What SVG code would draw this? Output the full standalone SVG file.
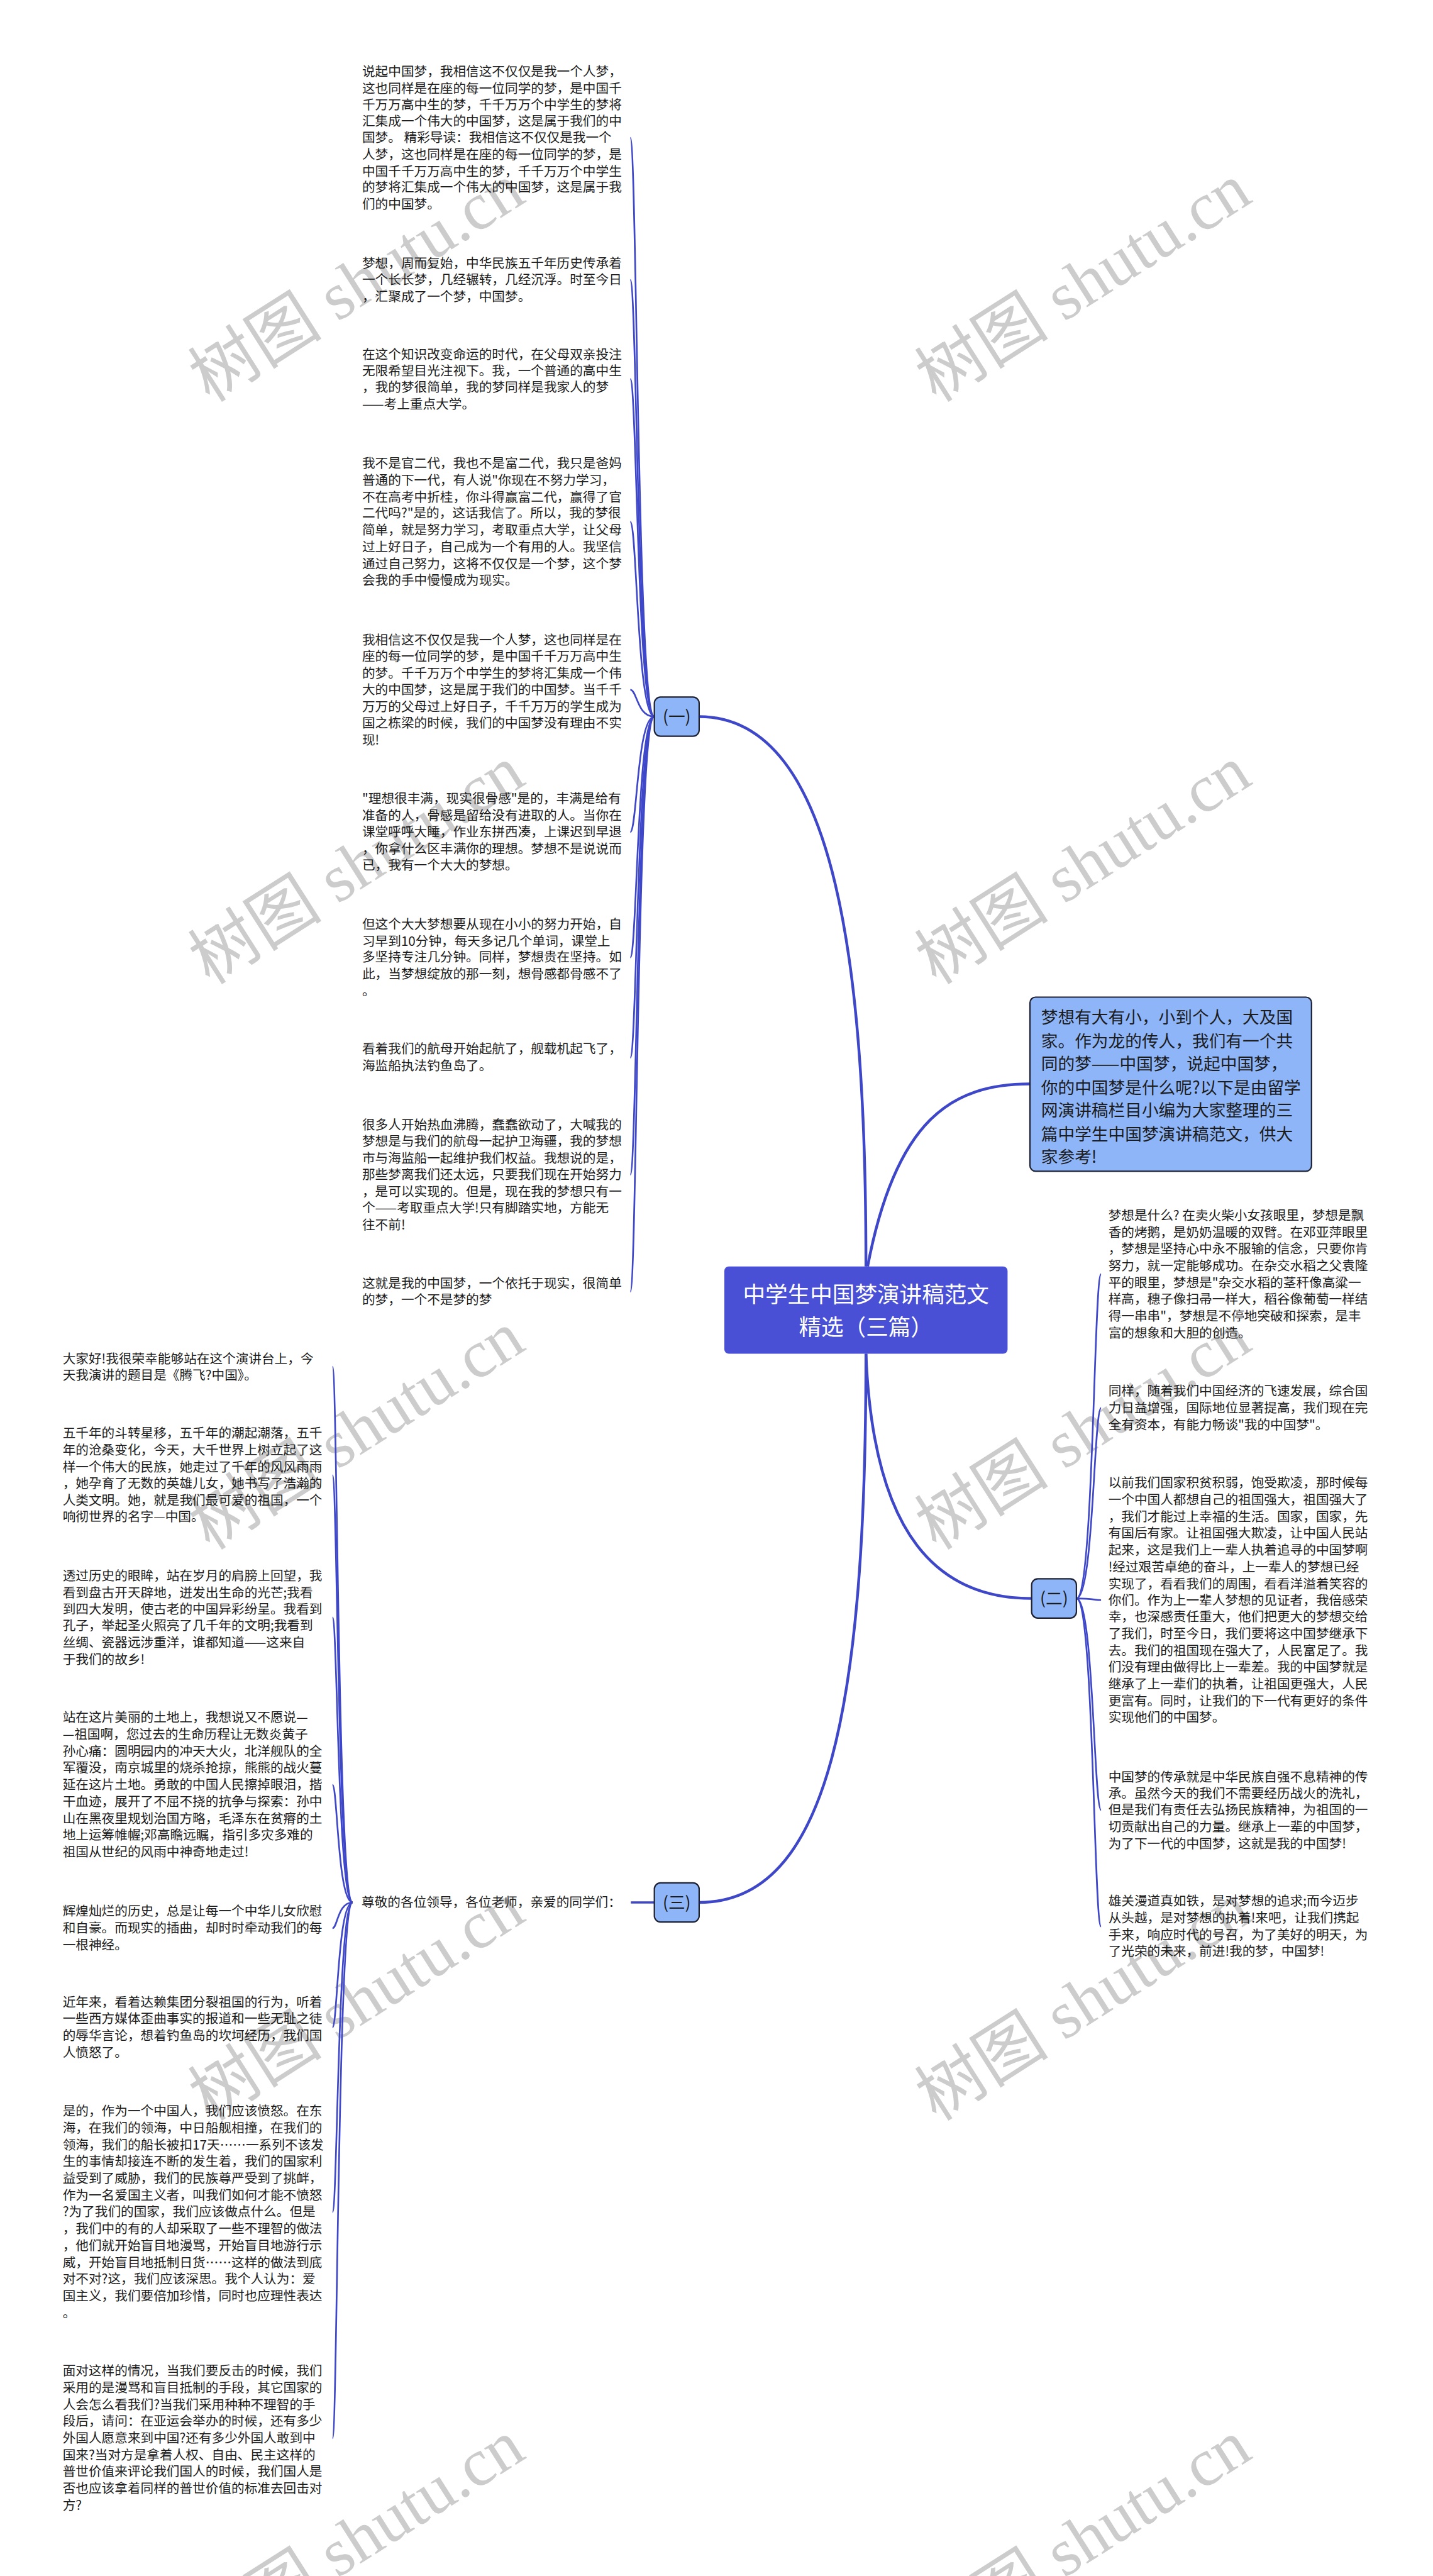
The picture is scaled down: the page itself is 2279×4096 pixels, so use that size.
<svg xmlns="http://www.w3.org/2000/svg" width="2279" height="4096" viewBox="0 0 2279 4096">
<style>
.t{font-family:"Noto Sans CJK SC","Noto Sans",sans-serif;font-size:23.2px;fill:#1c1c1c}
.it{font-family:"Noto Sans CJK SC","Noto Sans",sans-serif;font-size:30px;fill:#1c1c1c}
.ct{font-family:"Noto Sans CJK SC","Noto Sans",sans-serif;font-size:40px;fill:#ffffff;text-anchor:middle}
.lb{font-family:"Noto Sans CJK SC","Noto Sans",sans-serif;font-size:30px;fill:#1c1c1c;text-anchor:middle}
.wm{font-family:"Liberation Serif","Noto Sans CJK SC",serif;font-size:120px;fill:#cccccc;text-anchor:middle}
.box{fill:#8db5f8;stroke:#1f2233;stroke-width:2.5}
.c{fill:none;stroke:#3f47c9;stroke-width:3}
.cm{fill:none;stroke:#3f47c9;stroke-width:5}
</style>
<rect width="2279" height="4096" fill="#ffffff"/>
<g transform="scale(0.89023)">
<g id="watermarks">
<text class="wm" transform="translate(640,510) rotate(-32.5)" y="35">树图 shutu.cn</text>
<text class="wm" transform="translate(1938,510) rotate(-32.5)" y="35">树图 shutu.cn</text>
<text class="wm" transform="translate(640,1550) rotate(-32.5)" y="35">树图 shutu.cn</text>
<text class="wm" transform="translate(1938,1550) rotate(-32.5)" y="35">树图 shutu.cn</text>
<text class="wm" transform="translate(640,2560) rotate(-32.5)" y="35">树图 shutu.cn</text>
<text class="wm" transform="translate(1938,2560) rotate(-32.5)" y="35">树图 shutu.cn</text>
<text class="wm" transform="translate(640,3580) rotate(-32.5)" y="35">树图 shutu.cn</text>
<text class="wm" transform="translate(1938,3580) rotate(-32.5)" y="35">树图 shutu.cn</text>
<text class="wm" transform="translate(640,4540) rotate(-32.5)" y="35">树图 shutu.cn</text>
<text class="wm" transform="translate(1938,4540) rotate(-32.5)" y="35">树图 shutu.cn</text>
</g>
<g id="connectors">
<path class="cm" d="M1547,2262 C1547,1750 1500,1280 1249,1280"/>
<path class="cm" d="M1550,2262 C1600,2000 1700,1936 1840,1936"/>
<path class="cm" d="M1547,2418 C1560,2750 1680,2855 1843,2855"/>
<path class="cm" d="M1547,2418 C1547,3050 1480,3398 1249,3398"/>
<path class="c" d="M1169,1280 C1138,1280 1138,246 1126,246"/>
<path class="c" d="M1169,1280 C1138,1280 1138,500 1126,500"/>
<path class="c" d="M1169,1280 C1138,1280 1138,677 1126,677"/>
<path class="c" d="M1169,1280 C1138,1280 1138,932 1126,932"/>
<path class="c" d="M1169,1280 C1138,1280 1138,1232 1126,1232"/>
<path class="c" d="M1169,1280 C1138,1280 1138,1486 1126,1486"/>
<path class="c" d="M1169,1280 C1138,1280 1138,1710 1126,1710"/>
<path class="c" d="M1169,1280 C1138,1280 1138,1889 1126,1889"/>
<path class="c" d="M1169,1280 C1138,1280 1138,2098 1126,2098"/>
<path class="c" d="M1169,1280 C1138,1280 1138,2307 1126,2307"/>
<path class="c" d="M1923,2855 C1954,2855 1954,2276 1967,2276"/>
<path class="c" d="M1923,2855 C1954,2855 1954,2515 1967,2515"/>
<path class="c" d="M1923,2855 C1954,2855 1954,2858 1967,2858"/>
<path class="c" d="M1923,2855 C1954,2855 1954,3233 1967,3233"/>
<path class="c" d="M1923,2855 C1954,2855 1954,3441 1967,3441"/>
<path class="c" style="stroke-width:4" d="M1127,3398 L1169,3398"/>
<path class="c" d="M630,3398 C603,3398 603,2441 594,2441"/>
<path class="c" d="M630,3398 C603,3398 603,2635 594,2635"/>
<path class="c" d="M630,3398 C603,3398 603,2889 594,2889"/>
<path class="c" d="M630,3398 C603,3398 603,3188 594,3188"/>
<path class="c" d="M630,3398 C603,3398 603,3444 594,3444"/>
<path class="c" d="M630,3398 C603,3398 603,3621 594,3621"/>
<path class="c" d="M630,3398 C603,3398 603,3951 594,3951"/>
<path class="c" d="M630,3398 C603,3398 603,4355 594,4355"/>
</g>
<g id="root">
<rect x="1294" y="2262" width="506" height="156" rx="8" fill="#4950d5"/>
<text class="ct"><tspan x="1547" y="2326">中学生中国梦演讲稿范文</tspan><tspan x="1547" y="2385">精选（三篇）</tspan></text>
</g>
<g id="intro">
<rect class="box" x="1840" y="1781" width="503" height="311" rx="10"/>
<text class="it"><tspan x="1860" y="1828">梦想有大有小，小到个人，大及国</tspan><tspan x="1860" y="1870">家。作为龙的传人，我们有一个共</tspan><tspan x="1860" y="1911">同的梦——中国梦，说起中国梦，</tspan><tspan x="1860" y="1953">你的中国梦是什么呢?以下是由留学</tspan><tspan x="1860" y="1994">网演讲稿栏目小编为大家整理的三</tspan><tspan x="1860" y="2036">篇中学生中国梦演讲稿范文，供大</tspan><tspan x="1860" y="2077">家参考!</tspan></text>
</g>
<g id="n1">
<rect class="box" x="1169" y="1245" width="80" height="70" rx="11"/>
<text class="lb" x="1209" y="1291">(一)</text>
</g>
<g id="n2">
<rect class="box" x="1843" y="2820" width="80" height="70" rx="11"/>
<text class="lb" x="1883" y="2866">(二)</text>
</g>
<g id="n3">
<rect class="box" x="1169" y="3363" width="80" height="70" rx="11"/>
<text class="lb" x="1209" y="3409">(三)</text>
</g>
<g id="n3-0"><text class="t" x="646" y="3406">尊敬的各位领导，各位老师，亲爱的同学们：</text></g>
<g id="n1-1"><text class="t"><tspan x="647" y="136">说起中国梦，我相信这不仅仅是我一个人梦，</tspan><tspan x="647" y="166">这也同样是在座的每一位同学的梦，是中国千</tspan><tspan x="647" y="195">千万万高中生的梦，千千万万个中学生的梦将</tspan><tspan x="647" y="225">汇集成一个伟大的中国梦，这是属于我们的中</tspan><tspan x="647" y="254">国梦。 精彩导读：我相信这不仅仅是我一个</tspan><tspan x="647" y="284">人梦，这也同样是在座的每一位同学的梦，是</tspan><tspan x="647" y="314">中国千千万万高中生的梦，千千万万个中学生</tspan><tspan x="647" y="343">的梦将汇集成一个伟大的中国梦，这是属于我</tspan><tspan x="647" y="373">们的中国梦。</tspan></text></g>
<g id="n1-2"><text class="t"><tspan x="647" y="478">梦想，周而复始，中华民族五千年历史传承着</tspan><tspan x="647" y="508">一个长长梦，几经辗转，几经沉浮。时至今日</tspan><tspan x="647" y="538">，汇聚成了一个梦，中国梦。</tspan></text></g>
<g id="n1-3"><text class="t"><tspan x="647" y="641">在这个知识改变命运的时代，在父母双亲投注</tspan><tspan x="647" y="671">无限希望目光注视下。我，一个普通的高中生</tspan><tspan x="647" y="700">，我的梦很简单，我的梦同样是我家人的梦</tspan><tspan x="647" y="730">——考上重点大学。</tspan></text></g>
<g id="n1-4"><text class="t"><tspan x="647" y="836">我不是官二代，我也不是富二代，我只是爸妈</tspan><tspan x="647" y="866">普通的下一代，有人说"你现在不努力学习，</tspan><tspan x="647" y="896">不在高考中折桂，你斗得赢富二代，赢得了官</tspan><tspan x="647" y="925">二代吗?"是的，这话我信了。所以，我的梦很</tspan><tspan x="647" y="955">简单，就是努力学习，考取重点大学，让父母</tspan><tspan x="647" y="985">过上好日子，自己成为一个有用的人。我坚信</tspan><tspan x="647" y="1015">通过自己努力，这将不仅仅是一个梦，这个梦</tspan><tspan x="647" y="1045">会我的手中慢慢成为现实。</tspan></text></g>
<g id="n1-5"><text class="t"><tspan x="647" y="1151">我相信这不仅仅是我一个人梦，这也同样是在</tspan><tspan x="647" y="1181">座的每一位同学的梦，是中国千千万万高中生</tspan><tspan x="647" y="1211">的梦。千千万万个中学生的梦将汇集成一个伟</tspan><tspan x="647" y="1240">大的中国梦，这是属于我们的中国梦。当千千</tspan><tspan x="647" y="1270">万万的父母过上好日子，千千万万的学生成为</tspan><tspan x="647" y="1300">国之栋梁的时候，我们的中国梦没有理由不实</tspan><tspan x="647" y="1330">现!</tspan></text></g>
<g id="n1-6"><text class="t"><tspan x="647" y="1435">"理想很丰满，现实很骨感"是的，丰满是给有</tspan><tspan x="647" y="1465">准备的人，骨感是留给没有进取的人。当你在</tspan><tspan x="647" y="1494">课堂呼呼大睡，作业东拼西凑，上课迟到早退</tspan><tspan x="647" y="1524">，你拿什么区丰满你的理想。梦想不是说说而</tspan><tspan x="647" y="1554">已，我有一个大大的梦想。</tspan></text></g>
<g id="n1-7"><text class="t"><tspan x="647" y="1659">但这个大大梦想要从现在小小的努力开始，自</tspan><tspan x="647" y="1689">习早到10分钟，每天多记几个单词，课堂上</tspan><tspan x="647" y="1718">多坚持专注几分钟。同样，梦想贵在坚持。如</tspan><tspan x="647" y="1748">此，当梦想绽放的那一刻，想骨感都骨感不了</tspan><tspan x="647" y="1778">。</tspan></text></g>
<g id="n1-8"><text class="t"><tspan x="647" y="1882">看着我们的航母开始起航了，舰载机起飞了，</tspan><tspan x="647" y="1912">海监船执法钓鱼岛了。</tspan></text></g>
<g id="n1-9"><text class="t"><tspan x="647" y="2017">很多人开始热血沸腾，蠢蠢欲动了，大喊我的</tspan><tspan x="647" y="2047">梦想是与我们的航母一起护卫海疆，我的梦想</tspan><tspan x="647" y="2077">市与海监船一起维护我们权益。我想说的是，</tspan><tspan x="647" y="2106">那些梦离我们还太远，只要我们现在开始努力</tspan><tspan x="647" y="2136">，是可以实现的。但是，现在我的梦想只有一</tspan><tspan x="647" y="2166">个——考取重点大学!只有脚踏实地，方能无</tspan><tspan x="647" y="2196">往不前!</tspan></text></g>
<g id="n1-10"><text class="t"><tspan x="647" y="2300">这就是我的中国梦，一个依托于现实，很简单</tspan><tspan x="647" y="2330">的梦，一个不是梦的梦</tspan></text></g>
<g id="n2-1"><text class="t"><tspan x="1980" y="2179">梦想是什么? 在卖火柴小女孩眼里，梦想是飘</tspan><tspan x="1980" y="2209">香的烤鹅，是奶奶温暖的双臂。在邓亚萍眼里</tspan><tspan x="1980" y="2239">，梦想是坚持心中永不服输的信念，只要你肯</tspan><tspan x="1980" y="2269">努力，就一定能够成功。在杂交水稻之父袁隆</tspan><tspan x="1980" y="2299">平的眼里，梦想是"杂交水稻的茎秆像高粱一</tspan><tspan x="1980" y="2329">样高，穗子像扫帚一样大，稻谷像葡萄一样结</tspan><tspan x="1980" y="2359">得一串串"，梦想是不停地突破和探索，是丰</tspan><tspan x="1980" y="2389">富的想象和大胆的创造。</tspan></text></g>
<g id="n2-2"><text class="t"><tspan x="1980" y="2493">同样，随着我们中国经济的飞速发展，综合国</tspan><tspan x="1980" y="2523">力日益增强，国际地位显著提高，我们现在完</tspan><tspan x="1980" y="2553">全有资本，有能力畅谈"我的中国梦"。</tspan></text></g>
<g id="n2-3"><text class="t"><tspan x="1980" y="2657">以前我们国家积贫积弱，饱受欺凌，那时候每</tspan><tspan x="1980" y="2687">一个中国人都想自己的祖国强大，祖国强大了</tspan><tspan x="1980" y="2717">，我们才能过上幸福的生活。国家，国家，先</tspan><tspan x="1980" y="2747">有国后有家。让祖国强大欺凌，让中国人民站</tspan><tspan x="1980" y="2777">起来，这是我们上一辈人执着追寻的中国梦啊</tspan><tspan x="1980" y="2807">!经过艰苦卓绝的奋斗，上一辈人的梦想已经</tspan><tspan x="1980" y="2837">实现了，看看我们的周围，看看洋溢着笑容的</tspan><tspan x="1980" y="2867">你们。作为上一辈人梦想的见证者，我倍感荣</tspan><tspan x="1980" y="2896">幸，也深感责任重大，他们把更大的梦想交给</tspan><tspan x="1980" y="2926">了我们，时至今日，我们要将这中国梦继承下</tspan><tspan x="1980" y="2956">去。我们的祖国现在强大了，人民富足了。我</tspan><tspan x="1980" y="2986">们没有理由做得比上一辈差。我的中国梦就是</tspan><tspan x="1980" y="3016">继承了上一辈们的执着，让祖国更强大，人民</tspan><tspan x="1980" y="3046">更富有。同时，让我们的下一代有更好的条件</tspan><tspan x="1980" y="3076">实现他们的中国梦。</tspan></text></g>
<g id="n2-4"><text class="t"><tspan x="1980" y="3182">中国梦的传承就是中华民族自强不息精神的传</tspan><tspan x="1980" y="3212">承。虽然今天的我们不需要经历战火的洗礼，</tspan><tspan x="1980" y="3241">但是我们有责任去弘扬民族精神，为祖国的一</tspan><tspan x="1980" y="3271">切贡献出自己的力量。继承上一辈的中国梦，</tspan><tspan x="1980" y="3301">为了下一代的中国梦，这就是我的中国梦!</tspan></text></g>
<g id="n2-5"><text class="t"><tspan x="1980" y="3404">雄关漫道真如铁，是对梦想的追求;而今迈步</tspan><tspan x="1980" y="3434">从头越，是对梦想的执着!来吧，让我们携起</tspan><tspan x="1980" y="3464">手来，响应时代的号召，为了美好的明天，为</tspan><tspan x="1980" y="3494">了光荣的未来，前进!我的梦，中国梦!</tspan></text></g>
<g id="n3-1"><text class="t"><tspan x="112" y="2435">大家好!我很荣幸能够站在这个演讲台上，今</tspan><tspan x="112" y="2464">天我演讲的题目是《腾飞?中国》。</tspan></text></g>
<g id="n3-2"><text class="t"><tspan x="112" y="2568">五千年的斗转星移，五千年的潮起潮落，五千</tspan><tspan x="112" y="2598">年的沧桑变化，今天，大千世界上树立起了这</tspan><tspan x="112" y="2628">样一个伟大的民族，她走过了千年的风风雨雨</tspan><tspan x="112" y="2658">，她孕育了无数的英雄儿女，她书写了浩瀚的</tspan><tspan x="112" y="2688">人类文明。她，就是我们最可爱的祖国，一个</tspan><tspan x="112" y="2717">响彻世界的名字—中国。</tspan></text></g>
<g id="n3-3"><text class="t"><tspan x="112" y="2823">透过历史的眼眸，站在岁月的肩膀上回望，我</tspan><tspan x="112" y="2853">看到盘古开天辟地，迸发出生命的光芒;我看</tspan><tspan x="112" y="2882">到四大发明，使古老的中国异彩纷呈。我看到</tspan><tspan x="112" y="2912">孔子，举起圣火照亮了几千年的文明;我看到</tspan><tspan x="112" y="2942">丝绸、瓷器远涉重洋，谁都知道——这来自</tspan><tspan x="112" y="2972">于我们的故乡!</tspan></text></g>
<g id="n3-4"><text class="t"><tspan x="112" y="3076">站在这片美丽的土地上，我想说又不愿说—</tspan><tspan x="112" y="3106">—祖国啊，您过去的生命历程让无数炎黄子</tspan><tspan x="112" y="3136">孙心痛：圆明园内的冲天大火，北洋舰队的全</tspan><tspan x="112" y="3166">军覆没，南京城里的烧杀抢掠，熊熊的战火蔓</tspan><tspan x="112" y="3196">延在这片土地。勇敢的中国人民擦掉眼泪，揩</tspan><tspan x="112" y="3226">干血迹，展开了不屈不挠的抗争与探索：孙中</tspan><tspan x="112" y="3256">山在黑夜里规划治国方略，毛泽东在贫瘠的土</tspan><tspan x="112" y="3286">地上运筹帷幄;邓高瞻远瞩，指引多灾多难的</tspan><tspan x="112" y="3316">祖国从世纪的风雨中神奇地走过!</tspan></text></g>
<g id="n3-5"><text class="t"><tspan x="112" y="3422">辉煌灿烂的历史，总是让每一个中华儿女欣慰</tspan><tspan x="112" y="3452">和自豪。而现实的插曲，却时时牵动我们的每</tspan><tspan x="112" y="3482">一根神经。</tspan></text></g>
<g id="n3-6"><text class="t"><tspan x="112" y="3584">近年来，看着达赖集团分裂祖国的行为，听着</tspan><tspan x="112" y="3614">一些西方媒体歪曲事实的报道和一些无耻之徒</tspan><tspan x="112" y="3644">的辱华言论，想着钓鱼岛的坎坷经历，我们国</tspan><tspan x="112" y="3674">人愤怒了。</tspan></text></g>
<g id="n3-7"><text class="t"><tspan x="112" y="3779">是的，作为一个中国人，我们应该愤怒。在东</tspan><tspan x="112" y="3809">海，在我们的领海，中日船舰相撞，在我们的</tspan><tspan x="112" y="3839">领海，我们的船长被扣17天……一系列不该发</tspan><tspan x="112" y="3869">生的事情却接连不断的发生着，我们的国家利</tspan><tspan x="112" y="3899">益受到了威胁，我们的民族尊严受到了挑衅，</tspan><tspan x="112" y="3929">作为一名爱国主义者，叫我们如何才能不愤怒</tspan><tspan x="112" y="3959">?为了我们的国家，我们应该做点什么。但是</tspan><tspan x="112" y="3989">，我们中的有的人却采取了一些不理智的做法</tspan><tspan x="112" y="4019">，他们就开始盲目地漫骂，开始盲目地游行示</tspan><tspan x="112" y="4049">威，开始盲目地抵制日货……这样的做法到底</tspan><tspan x="112" y="4079">对不对?这，我们应该深思。我个人认为：爱</tspan><tspan x="112" y="4109">国主义，我们要倍加珍惜，同时也应理性表达</tspan><tspan x="112" y="4139">。</tspan></text></g>
<g id="n3-8"><text class="t"><tspan x="112" y="4243">面对这样的情况，当我们要反击的时候，我们</tspan><tspan x="112" y="4273">采用的是漫骂和盲目抵制的手段，其它国家的</tspan><tspan x="112" y="4303">人会怎么看我们?当我们采用种种不理智的手</tspan><tspan x="112" y="4333">段后，请问：在亚运会举办的时候，还有多少</tspan><tspan x="112" y="4363">外国人愿意来到中国?还有多少外国人敢到中</tspan><tspan x="112" y="4393">国来?当对方是拿着人权、自由、民主这样的</tspan><tspan x="112" y="4423">普世价值来评论我们国人的时候，我们国人是</tspan><tspan x="112" y="4453">否也应该拿着同样的普世价值的标准去回击对</tspan><tspan x="112" y="4483">方?</tspan></text></g>
</g>
</svg>
